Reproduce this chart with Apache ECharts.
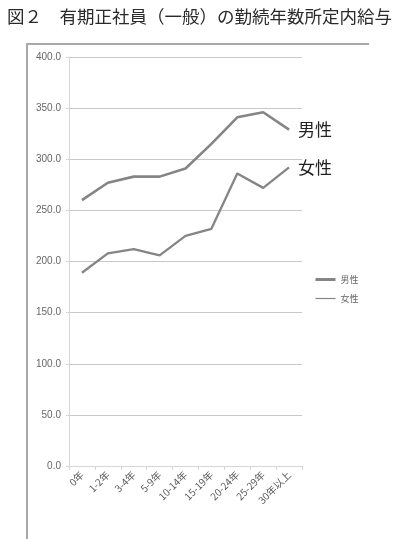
<!DOCTYPE html>
<html>
<head>
<meta charset="utf-8">
<script src="https://cdn.jsdelivr.net/npm/echarts@6/dist/echarts.min.js"></script>
<style>
html,body{margin:0;padding:0;background:#fff;}
#main{width:395px;height:539px;}
</style>
</head>
<body>
<div id="main"></div>
<script>
const titleText = "図２　有期正社員（一般）の勤続年数所定内給与";
const categories = ["0年", "1-2年", "3-4年", "5-9年", "10-14年", "15-19年", "20-24年", "25-29年", "30年以上"];
const maleName = "男性";
const femaleName = "女性";
const maleValues = [260, 277, 283, 283, 291, 315, 341, 346, 329];
const femaleValues = [189, 208, 212, 206, 225, 232, 286, 272, 292];
const yMin = 0, yMax = 400, yInterval = 50;

const chart = echarts.init(document.getElementById('main'), null, {renderer: 'canvas'});
const font = "'Noto Sans CJK JP', 'Noto Sans', sans-serif";
chart.setOption({
  animation: false,
  backgroundColor: '#ffffff',
  title: {
    text: titleText,
    left: 2, top: 3,
    textStyle: {fontSize: 17.5, fontWeight: 'normal', color: '#2a2a2a', fontFamily: font}
  },
  graphic: [{
    type: 'polyline',
    shape: {points: [[27, 539], [27, 44], [369, 44]]},
    style: {stroke: '#a8a8a8', lineWidth: 2, fill: null}
  }],
  legend: {
    orient: 'vertical',
    left: 309, top: 270,
    itemWidth: 20, itemHeight: 10, itemGap: 10,
    itemStyle: {opacity: 0},
    textStyle: {fontSize: 9, color: '#666666', fontFamily: font},
    data: [
      {name: maleName, lineStyle: {width: 3}},
      {name: femaleName, lineStyle: {width: 1.2}}
    ]
  },
  grid: {left: 69, right: 93, top: 57, bottom: 73, containLabel: false},
  xAxis: {
    type: 'category',
    data: categories,
    boundaryGap: true,
    axisLine: {lineStyle: {color: '#d6d6d6', width: 1}},
    axisTick: {show: true, alignWithLabel: false, length: 4, lineStyle: {color: '#d6d6d6'}},
    axisLabel: {interval: 0, rotate: 45, fontSize: 10, color: '#595959', fontFamily: font, margin: 7}
  },
  yAxis: {
    type: 'value',
    min: yMin, max: yMax, interval: yInterval,
    axisLine: {show: true, lineStyle: {color: '#d6d6d6', width: 1}},
    axisTick: {show: true, length: 3, lineStyle: {color: '#d6d6d6'}},
    axisLabel: {fontSize: 10, color: '#666666', fontFamily: "'Liberation Sans', sans-serif", margin: 8,
      formatter: v => v.toFixed(1)},
    splitLine: {show: true, lineStyle: {color: '#c8c8c8', width: 1}}
  },
  series: [
    {
      name: maleName, type: 'line', data: maleValues,
      symbol: 'none', smooth: false,
      lineStyle: {color: '#858585', width: 2.6},
      itemStyle: {color: '#858585'},
      endLabel: {show: true, formatter: '{a}', fontSize: 17, color: '#222222', fontFamily: font, distance: 9}
    },
    {
      name: femaleName, type: 'line', data: femaleValues,
      symbol: 'none', smooth: false,
      lineStyle: {color: '#858585', width: 2.3},
      itemStyle: {color: '#858585'},
      endLabel: {show: true, formatter: '{a}', fontSize: 17, color: '#222222', fontFamily: font, distance: 9}
    }
  ]
});
</script>
</body>
</html>
